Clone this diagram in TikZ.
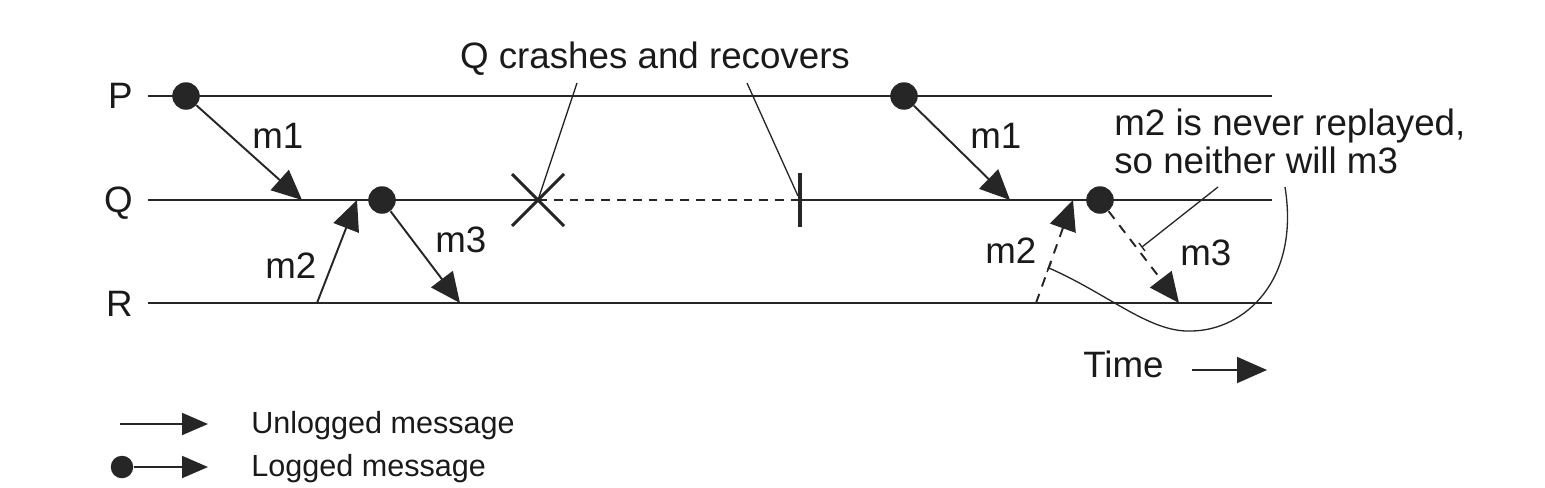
\documentclass[tikz,border=0pt]{standalone}
\usepackage{fontspec}
\setmainfont{Liberation Sans}
\usetikzlibrary{arrows.meta}
\definecolor{linec}{HTML}{262626}
\definecolor{txtc}{HTML}{1A1A1A}
\newcommand\mainsz{\fontsize{20.9}{25}\selectfont}
\newcommand\legsz{\fontsize{17.4}{21}\selectfont}
\begin{document}
\begin{tikzpicture}[x=0.02cm,y=-0.02cm,
  tl/.style={line width=1.1pt,draw=linec},
  thinl/.style={line width=0.75pt,draw=linec},
  msg/.style={line width=1.1pt,draw=linec,-{Triangle[length=0.6cm,width=0.54cm]}},
  legmsg/.style={line width=1.1pt,draw=linec,-{Triangle[length=0.52cm,width=0.44cm]}},
  timemsg/.style={line width=1.1pt,draw=linec,-{Triangle[length=0.6cm,width=0.52cm]}},
  dmsg/.style={msg,dash pattern=on 5.5pt off 4.5pt},
  dot/.style={circle,fill=linec,draw=none,inner sep=0pt,minimum size=0.55cm},
  ldot/.style={circle,fill=linec,draw=none,inner sep=0pt,minimum size=0.45cm},
  lbl/.style={inner sep=0pt,text=txtc,font=\mainsz},
  leglbl/.style={inner sep=0pt,text=txtc,font=\legsz}]
\useasboundingbox (0,0) rectangle (1545,487);
% process lines
\coordinate (P0) at (148,96);  \coordinate (P9) at (1272,96);
\coordinate (Q0) at (148,200); \coordinate (Q9) at (1272,200);
\coordinate (R0) at (148,303); \coordinate (R9) at (1272,303);
\coordinate (Xc) at (538,200); \coordinate (Rec) at (800,200);
\draw[tl] (P0) -- (P9);
\draw[tl] (R0) -- (R9);
\draw[tl] (Q0) -- (Xc);
\draw[tl,dash pattern=on 5pt off 4pt] (Xc) -- (Rec);
\draw[tl] (Rec) -- (Q9);
\node[lbl,anchor=base east] (lP) at (133,108) {P};
\node[lbl,anchor=base east] (lQ) at (133,212) {Q};
\node[lbl,anchor=base east] (lR) at (133,316) {R};
% crash and recovery marks
\coordinate (Xa) at (512,174); \coordinate (Xb) at (564,226);
\coordinate (Xd) at (512,226); \coordinate (Xe) at (564,174);
\draw[line width=1.8pt,draw=linec] (Xa) -- (Xb);
\draw[line width=1.8pt,draw=linec] (Xd) -- (Xe);
\coordinate (Ta) at (800,173); \coordinate (Tb) at (800,227);
\draw[line width=2.2pt,draw=linec] (Ta) -- (Tb);
\node[lbl,anchor=base] (crash) at (655,68) {Q crashes and recovers};
\coordinate (c1) at (577,83); \coordinate (c2) at (747,83);
\coordinate (recend) at (798,196);
\draw[thinl] (c1) -- (Xc);
\draw[thinl] (c2) -- (recend);
% first round of messages
\node[dot] (dP1) at (186,96) {};
\node[dot] (dQ1) at (382,200) {};
\coordinate (m1a) at (302,200);
\coordinate (m2s) at (317,303); \coordinate (m2a) at (357,200);
\coordinate (m3a) at (460,303);
\draw[msg] (dP1) -- (m1a);
\draw[msg] (m2s) -- (m2a);
\draw[msg] (dQ1) -- (m3a);
\node[lbl,anchor=base west] (lm1) at (252,148) {m1};
\node[lbl,anchor=base west] (lm2) at (265,278) {m2};
\node[lbl,anchor=base west] (lm3) at (435,252) {m3};
% replay
\node[dot] (dP2) at (904,96) {};
\node[dot] (dQ2) at (1100,200) {};
\coordinate (m1b) at (1010,200);
\coordinate (m2t) at (1036,303); \coordinate (m2b) at (1073,200);
\coordinate (m3b) at (1179,303);
\draw[msg] (dP2) -- (m1b);
\draw[dmsg] (m2t) -- (m2b);
\draw[dmsg] (dQ2) -- (m3b);
\node[lbl,anchor=base west] (lm1b) at (970,148) {m1};
\node[lbl,anchor=base west] (lm2b) at (985,263) {m2};
\node[lbl,anchor=base west] (lm3b) at (1180,265) {m3};
% annotation
\node[lbl,anchor=base west] (note1) at (1114,135) {m2 is never replayed,};
\node[lbl,anchor=base west] (note2) at (1114,173) {so neither will m3};
\coordinate (n1) at (1218,187); \coordinate (n2) at (1142,247);
\coordinate (n2a) at (1139,243); \coordinate (n2b) at (1145,251);
\draw[thinl] (n1) -- (n2);
\draw[thinl] (n2a) -- (n2b);
\coordinate (cv0) at (1049,268); \coordinate (cv1) at (1192,331);
\coordinate (cv2) at (1285,187);
\coordinate (cva) at (1051,263); \coordinate (cvb) at (1047,272);
\draw[thinl] (cv0) .. controls (1110,295) and (1150,333) .. (cv1)
  .. controls (1245,330) and (1300,280) .. (cv2);
\draw[thinl] (cva) -- (cvb);
% time
\node[lbl,anchor=base west] (time) at (1083,377) {Time};
\coordinate (t0) at (1192,370); \coordinate (t1) at (1267,370);
\draw[timemsg] (t0) -- (t1);
% legend
\coordinate (u0) at (120,424); \coordinate (u1) at (208,424);
\draw[legmsg] (u0) -- (u1);
\node[ldot] (ld) at (122,467) {};
\coordinate (l1) at (208,467);
\draw[legmsg] (ld) -- (l1);
\node[leglbl,anchor=base west] (tu) at (251,433) {Unlogged message};
\node[leglbl,anchor=base west] (tl) at (251,476) {Logged message};
\end{tikzpicture}
\end{document}
